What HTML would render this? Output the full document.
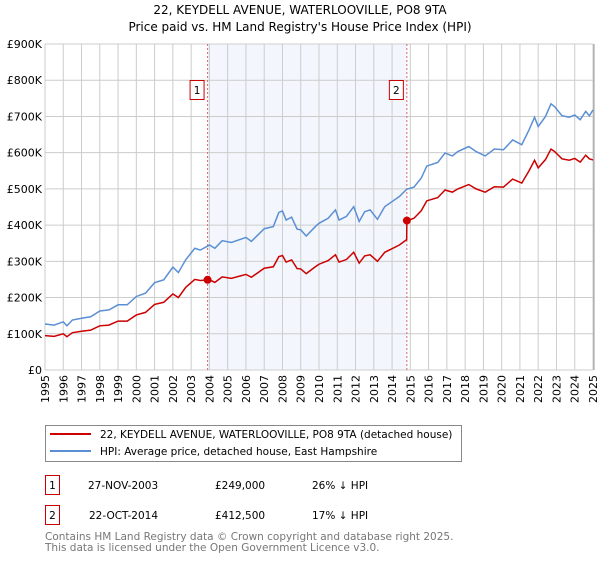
<!DOCTYPE html>
<html><head><meta charset="utf-8"><style>
body{margin:0;background:#fff;font-family:"DejaVu Sans","Liberation Sans",sans-serif;}
svg text{font-family:"DejaVu Sans","Liberation Sans",sans-serif;}
</style></head><body>
<svg id="c" width="600" height="560" viewBox="0 0 600 560">
<text x="300" y="14" text-anchor="middle" font-size="12">22, KEYDELL AVENUE, WATERLOOVILLE, PO8 9TA</text>
<text x="300" y="31" text-anchor="middle" font-size="12">Price paid vs. HM Land Registry's House Price Index (HPI)</text>
<g id="plot"></g>
<g>
<rect x="45.5" y="425.5" width="416" height="36" fill="#fff" stroke="#888"/>
<line x1="50" y1="434" x2="91" y2="434" stroke="#cc0000" stroke-width="2"/>
<text x="100" y="438" font-size="10.5">22, KEYDELL AVENUE, WATERLOOVILLE, PO8 9TA (detached house)</text>
<line x1="50" y1="451" x2="91" y2="451" stroke="#5b8fd4" stroke-width="2"/>
<text x="100" y="455" font-size="10.5">HPI: Average price, detached house, East Hampshire</text>
</g>
<g font-size="10.5">
<rect x="45.5" y="475.5" width="14" height="19" fill="#fff" stroke="#cc0000"/>
<text x="52.5" y="489" text-anchor="middle">1</text>
<text x="88" y="489">27-NOV-2003</text><text x="215" y="489">£249,000</text><text x="312" y="489">26% ↓ HPI</text>
<rect x="45.5" y="505.5" width="14" height="19" fill="#fff" stroke="#cc0000"/>
<text x="52.5" y="519" text-anchor="middle">2</text>
<text x="89" y="519">22-OCT-2014</text><text x="215" y="519">£412,500</text><text x="312" y="519">17% ↓ HPI</text>
</g>
<text x="45" y="540" font-size="10.5" fill="#777">Contains HM Land Registry data © Crown copyright and database right 2025.</text>
<text x="45" y="551" font-size="10.5" fill="#777">This data is licensed under the Open Government Licence v3.0.</text>
</svg>
<script>
const years=[1995,1995.5,1996,1996.2,1996.5,1997,1997.5,1998,1998.5,1999,1999.5,2000,2000.5,2001,2001.5,2002,2002.3,2002.7,2003.2,2003.5,2004,2004.3,2004.7,2005.2,2006,2006.3,2007,2007.5,2007.8,2008,2008.2,2008.5,2008.8,2009,2009.3,2009.8,2010,2010.5,2010.9,2011.1,2011.5,2011.9,2012.2,2012.5,2012.8,2013.2,2013.6,2014,2014.4,2014.8,2015.2,2015.6,2015.9,2016.5,2016.9,2017.3,2017.6,2018.2,2018.6,2019.1,2019.6,2020.1,2020.6,2021.1,2021.5,2021.8,2022,2022.4,2022.7,2022.9,2023.3,2023.7,2024,2024.3,2024.6,2024.8,2025];
const hpi=[127,124,133,122,138,143,147,163,166,180,180,203,212,241,249,284,269,304,336,331,345,336,357,352,366,355,390,396,435,439,414,422,389,387,370,396,405,419,442,414,424,451,410,437,442,416,451,465,479,499,505,530,563,573,599,591,603,617,603,591,610,608,635,622,663,698,672,700,735,727,702,698,704,691,714,702,718];
const redYears=[1995,1995.5,1996,1996.2,1996.5,1997,1997.5,1998,1998.5,1999,1999.5,2000,2000.5,2001,2001.5,2002,2002.3,2002.7,2003.2,2003.5,2004,2004.3,2004.7,2005.2,2006,2006.3,2007,2007.5,2007.8,2008,2008.2,2008.5,2008.8,2009,2009.3,2009.8,2010,2010.5,2010.9,2011.1,2011.5,2011.9,2012.2,2012.5,2012.8,2013.2,2013.6,2014,2014.4,2014.8,2014.81,2015.2,2015.6,2015.9,2016.5,2016.9,2017.3,2017.6,2018.2,2018.6,2019.1,2019.6,2020.1,2020.6,2021.1,2021.5,2021.8,2022,2022.4,2022.7,2022.9,2023.3,2023.7,2024,2024.3,2024.6,2024.8,2025];
const red=[95,93,100,92,103,107,110,122,124,135,135,152,159,181,187,210,200,228,250,247,249,242,257,253,264,256,281,285,313,316,298,304,280,279,266,285,292,302,318,298,305,325,295,315,318,300,325,335,345,360,412,419,440,467,476,497,491,500,512,500,491,506,505,527,516,550,579,558,581,610,603,583,579,584,574,593,583,580];
const saleYears=[2003.9,2014.81];
const saleValues=[249,412.5];
const saleLabels=["1","2"];
const yTicks=[0,100,200,300,400,500,600,700,800,900];
const yTickLabels=["£0","£100K","£200K","£300K","£400K","£500K","£600K","£700K","£800K","£900K"];
const xTicks=[1995,1996,1997,1998,1999,2000,2001,2002,2003,2004,2005,2006,2007,2008,2009,2010,2011,2012,2013,2014,2015,2016,2017,2018,2019,2020,2021,2022,2023,2024,2025];

const X0=45,X1=593,Y0=370,Y1=44;
const xs=y=>X0+(y-1995)/30*(X1-X0);
const ys=v=>Y0-v/900*(Y0-Y1);
const NS="http://www.w3.org/2000/svg";
const g=document.getElementById('plot');
function mk(t,a){const e=document.createElementNS(NS,t);for(const k in a)e.setAttribute(k,a[k]);g.appendChild(e);return e;}
let e=mk('rect',{x:xs(saleYears[0]),y:Y1,width:xs(saleYears[1])-xs(saleYears[0]),height:Y0-Y1,fill:'#eef3fc',opacity:0.7});


xTicks.forEach(t=>{
 let l=mk('line',{x1:xs(t),x2:xs(t),y1:Y1,y2:Y0,stroke:'#ccc'});
 
 
 let tx=mk('text',{x:0,y:0,'font-size':11,transform:`translate(${xs(t)+4},${Y0+33}) rotate(-90)`});
 tx.textContent=t;
 
 
});
yTicks.forEach((t,i)=>{
 let l=mk('line',{x1:X0,x2:X1,y1:ys(t),y2:ys(t),stroke:'#ccc'});
 
 
 let tx=mk('text',{x:X0-3,y:ys(t)+4,'font-size':11,'text-anchor':'end'});
 tx.textContent=yTickLabels[i];
 
 
});
saleYears.forEach((s,i)=>{
 let l=mk('line',{x1:xs(s),x2:xs(s),y1:Y1,y2:Y0,stroke:'#e06666','stroke-dasharray':'2,2'});
 
 
 let r=mk('rect',{x:xs(s)-17.5,y:80.5,width:14,height:19,fill:'#fff',stroke:'#cc0000'});
 
 
 let t=mk('text',{x:xs(s)-10.5,y:94,'font-size':10.5,'text-anchor':'middle'});
 t.textContent=saleLabels[i];
 
 
});
let p=mk('polyline',{points:years.map((y,i)=>xs(y)+','+ys(hpi[i])).join(' '),fill:'none',stroke:'#5b8fd4','stroke-width':1.5});


let q=mk('polyline',{points:redYears.map((y,i)=>xs(y)+','+ys(red[i])).join(' '),fill:'none',stroke:'#cc0000','stroke-width':1.5});


saleYears.forEach((s,i)=>{
 let c=mk('circle',{cx:xs(s),cy:ys(saleValues[i]),r:4,fill:'#cc0000'});
 
 
});
let b=mk('line',{x1:X1+1,x2:X1+1,y1:Y1,y2:Y0,stroke:'#999'});


</script>
</body></html>
